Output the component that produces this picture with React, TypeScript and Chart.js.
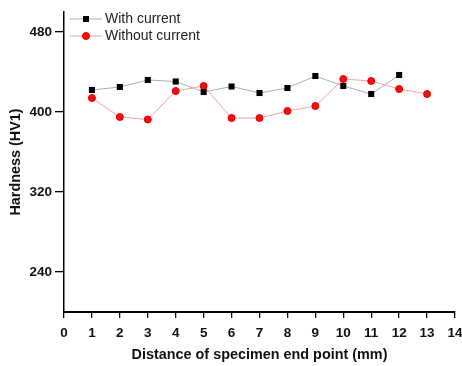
import React, { useEffect, useRef } from "react";
import { Chart, registerables } from "chart.js";

Chart.register(...registerables);

const distances = [1, 2, 3, 4, 5, 6, 7, 8, 9, 10, 11, 12, 13];
const withCurrent = [422, 425, 432, 430.5, 420, 425.5, 419, 424, 436, 426, 418, 437];
const withoutCurrent = [414, 395, 392.5, 421, 426, 394, 394, 401, 406, 433, 431, 423, 418];
const seriesLabels = ["With current", "Without current"];
const yTickValues = [240, 320, 400, 480];
const xAxisTitle = "Distance of specimen end point (mm)";
const yAxisTitle = "Hardness (HV1)";

const FONT = "'Liberation Sans', Arial, sans-serif";

const legendPlugin = {
  id: "insideLegend",
  afterDraw(chart: any) {
    const ctx = chart.ctx;
    const area = chart.chartArea;
    const rows = [19, 36];
    ctx.save();
    chart.data.datasets.forEach((ds: any, i: number) => {
      const y = rows[i];
      const x0 = area.left + 6;
      const x1 = area.left + 38;
      ctx.strokeStyle = ds.borderColor;
      ctx.lineWidth = 1;
      ctx.beginPath();
      ctx.moveTo(x0, y);
      ctx.lineTo(x1, y);
      ctx.stroke();
      const cx = (x0 + x1) / 2;
      ctx.fillStyle = ds.pointBackgroundColor;
      ctx.strokeStyle = ds.pointBorderColor;
      if (ds.pointStyle === "rect") {
        ctx.fillRect(cx - 3, y - 3, 6, 6);
      } else {
        ctx.beginPath();
        ctx.arc(cx, y, 3.5, 0, Math.PI * 2);
        ctx.fill();
        ctx.stroke();
      }
      ctx.fillStyle = "#222";
      ctx.font = `14px ${FONT}`;
      ctx.textBaseline = "middle";
      ctx.textAlign = "left";
      ctx.fillText(ds.label, area.left + 41, y);
    });
    ctx.restore();
  },
};

export default function App() {
  const ref = useRef<HTMLCanvasElement | null>(null);

  useEffect(() => {
    document.body.style.margin = "0";
    const canvas = ref.current;
    if (!canvas) return;
    const chart = new Chart(canvas, {
      type: "line",
      data: {
        datasets: [
          {
            label: seriesLabels[0],
            data: withCurrent.map((v, i) => ({ x: distances[i], y: v })),
            borderColor: "#a3b3b3",
            borderWidth: 1,
            pointStyle: "rect",
            pointRadius: 4.3,
            pointBackgroundColor: "#000",
            pointBorderColor: "#000",
            pointBorderWidth: 0,
            tension: 0,
          },
          {
            label: seriesLabels[1],
            data: withoutCurrent.map((v, i) => ({ x: distances[i], y: v })),
            borderColor: "#f3a3a3",
            borderWidth: 1,
            pointStyle: "circle",
            pointRadius: 3.5,
            pointBackgroundColor: "#ff0a0a",
            pointBorderColor: "#e00000",
            pointBorderWidth: 1,
            tension: 0,
          },
        ],
      },
      options: {
        animation: false,
        responsive: true,
        maintainAspectRatio: false,
        layout: { padding: { left: 0, right: 0, top: 12, bottom: 0 } },
        plugins: {
          legend: { display: false },
          tooltip: { enabled: false },
        },
        scales: {
          x: {
            type: "linear",
            min: 0,
            max: 14,
            grid: {
              drawOnChartArea: false,
              drawTicks: true,
              tickLength: 6,
              color: "#000",
              lineWidth: 1.3,
            },
            border: { display: true, color: "#000", width: 2 },
            ticks: {
              stepSize: 1,
              color: "#111",
              padding: 7,
              maxRotation: 0,
              font: { family: FONT, size: 13.5, weight: "bold" },
            },
            title: {
              display: true,
              text: xAxisTitle,
              color: "#111",
              padding: { top: 0, bottom: 2 },
              font: { family: FONT, size: 14.4, weight: "bold" },
            },
            afterFit(scale: any) {
              scale.height = 54;
              scale.paddingRight = 7;
              scale.paddingLeft = 0;
            },
          },
          y: {
            type: "linear",
            min: 200,
            max: 500,
            afterBuildTicks(scale: any) {
              scale.ticks = yTickValues.map((v) => ({ value: v }));
            },
            grid: {
              drawOnChartArea: false,
              drawTicks: true,
              tickLength: 9,
              color: "#000",
              lineWidth: 1.3,
            },
            border: { display: true, color: "#000", width: 1.5 },
            ticks: {
              color: "#111",
              padding: 3,
              font: { family: FONT, size: 13.5, weight: "bold" },
            },
            title: {
              display: true,
              text: yAxisTitle,
              color: "#111",
              padding: { top: 7, bottom: 0 },
              font: { family: FONT, size: 14.4, weight: "bold" },
            },
            afterFit(scale: any) {
              scale.width = 64;
            },
          },
        },
      },
      plugins: [legendPlugin],
    } as any);
    return () => chart.destroy();
  }, []);

  return (
    <div style={{ position: "fixed", left: 0, top: 0, width: 462, height: 366, background: "#fff" }}>
      <canvas ref={ref} />
    </div>
  );
}
